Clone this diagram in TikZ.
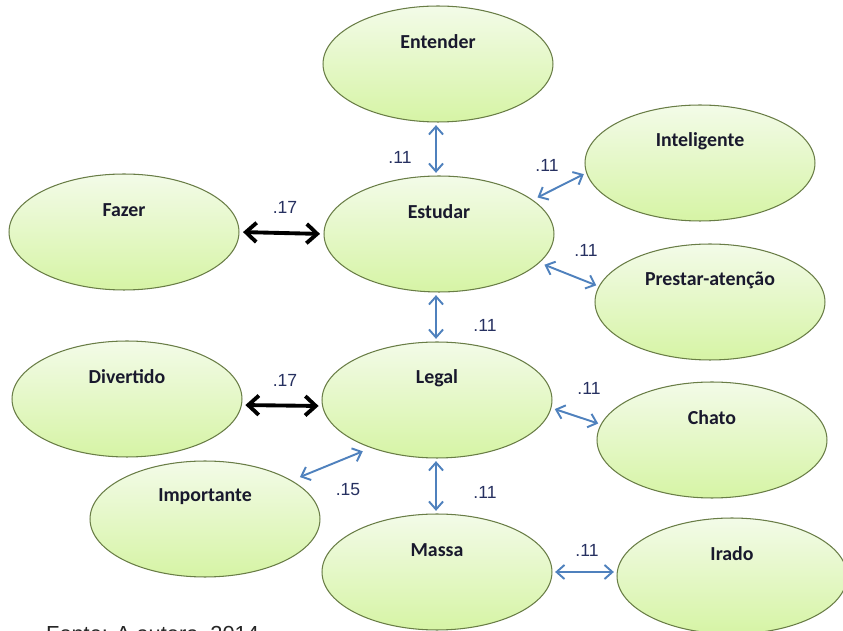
\documentclass[tikz,border=0pt]{standalone}
\usepackage{fontspec}
\setmainfont{Liberation Sans}
\newfontfamily\rotulo{Carlito}
\usepackage{xcolor}
\usetikzlibrary{shapes.geometric, arrows.meta, positioning}

\definecolor{borda}{RGB}{105,125,70}
\definecolor{verdeclaro}{RGB}{243,251,232}
\definecolor{verdeescuro}{RGB}{214,244,165}
\definecolor{azulseta}{RGB}{79,129,189}
\definecolor{numcor}{RGB}{38,48,96}
\definecolor{textocor}{RGB}{25,25,45}

\begin{document}
\begin{tikzpicture}[x=0.02cm, y=-0.02cm,
  termo/.style={ellipse, draw=borda, line width=0.6pt, top color=verdeclaro, bottom color=verdeescuro, minimum width=4.6cm, minimum height=2.32cm, inner sep=0pt},
  rot/.style={font=\rotulo\bfseries\fontsize{11.3}{13}\selectfont, text=textocor, yshift=0.44cm},
  peso/.style={font=\fontsize{10}{12}\selectfont, text=numcor},
  fraca/.style={{Straight Barb[length=4.5pt,width=8pt]}-{Straight Barb[length=4.5pt,width=8pt]}, azulseta, line width=1.1pt, shorten <=1.5pt, shorten >=1.5pt},
  forte/.style={{Straight Barb[length=6pt,width=11pt]}-{Straight Barb[length=6pt,width=11pt]}, black, line width=2.2pt, shorten <=2pt, shorten >=2pt}]
\useasboundingbox (0,0) rectangle (843,631);

% Termos
\node[termo, label={[rot]center:Entender}] (entender) at (438,64) {};
\node[termo, label={[rot]center:Estudar}] (estudar) at (439,234) {};
\node[termo, label={[rot]center:Inteligente}] (intel) at (700,163) {};
\node[termo, label={[rot]center:Fazer}] (fazer) at (124,232) {};
\node[termo, label={[rot]center:Prestar-atenção}] (prestar) at (710,302) {};
\node[termo, label={[rot]center:Divertido}] (divertido) at (127,399) {};
\node[termo, label={[rot]center:Legal}] (legal) at (437,400) {};
\node[termo, label={[rot]center:Chato}] (chato) at (712,440) {};
\node[termo, label={[rot]center:Importante}] (importante) at (205,519) {};
\node[termo, label={[rot]center:Massa}] (massa) at (437,572) {};
\node[termo, label={[rot]center:Irado}] (irado) at (732,576) {};

% Pesos
\node[peso] (p1) at (400,157) {.11};
\node[peso] (p2) at (547,165) {.11};
\node[peso] (p3) at (285,207) {.17};
\node[peso] (p4) at (586,250) {.11};
\node[peso] (p5) at (485,325) {.11};
\node[peso] (p6) at (285,380) {.17};
\node[peso] (p7) at (589,388) {.11};
\node[peso] (p8) at (348,490) {.15};
\node[peso] (p9) at (485,492) {.11};
\node[peso] (p10) at (587,550) {.11};

% Ligacoes
\draw[fraca] (entender.south -| 436,0) -- (estudar.north -| 436,0);
\draw[fraca, shorten <=3pt] (estudar.20) -- (intel.185);
\draw[fraca, shorten <=3pt] (estudar.-16) -- (prestar.172);
\draw[forte] (fazer.east) -- (estudar.west);
\draw[fraca] (estudar.south -| 436,0) -- (legal.north -| 436,0);
\draw[forte] (divertido.-3) -- (legal.183);
\draw[fraca, shorten <=2pt] (legal.-4) -- (chato.172);
\draw[fraca, shorten <=5pt, shorten >=5pt] (importante.24) -- (legal.216);
\draw[fraca] (legal.south -| 436,0) -- (massa.north -| 436,0);
\draw[fraca] (massa.east) -- (irado.west |- massa.east);

% Fonte
\node[anchor=base west, font=\fontsize{12.4}{14}\selectfont, text=black!85] (fonte) at (40,642) {Fonte: A autora, 2014};
\end{tikzpicture}
\end{document}
